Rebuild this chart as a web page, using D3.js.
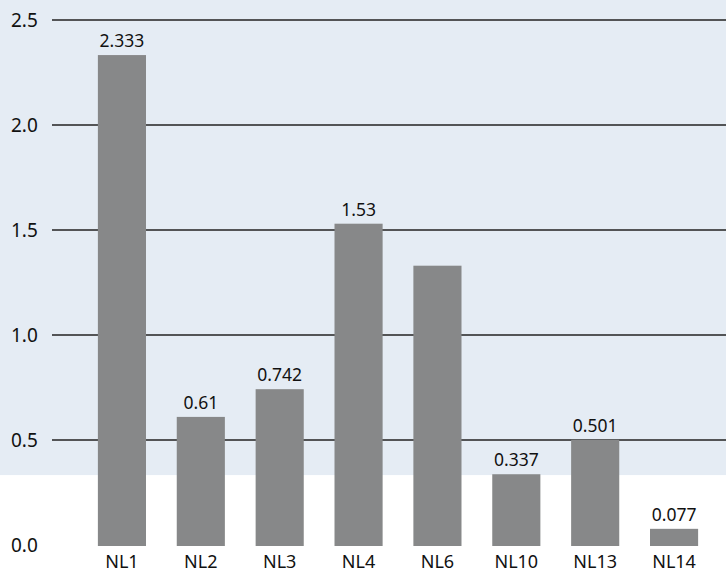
<!DOCTYPE html>
<html>
<head>
<meta charset="utf-8">
<script src="https://cdn.jsdelivr.net/npm/d3@7"></script>
<style>
  body { margin: 0; background: #fff; }
  text { font-family: "Noto Sans", sans-serif; fill: #111; }
</style>
</head>
<body>
<div id="graph"></div>
<script>
// bar chart, values
var categories = ["NL1", "NL2", "NL3", "NL4", "NL6", "NL10", "NL13", "NL14"];
var values = [2.333, 0.61, 0.742, 1.53, 1.33, 0.337, 0.501, 0.077];
var labels = ["2.333", "0.61", "0.742", "1.53", "", "0.337", "0.501", "0.077"];
var yTicks = [0.0, 0.5, 1.0, 1.5, 2.0, 2.5];
var bandTop = 0.333; // light blue background reaches down to this value

var width = 726, height = 580;

var svg = d3.select("#graph").append("svg")
    .attr("width", width)
    .attr("height", height);

var x = d3.scaleBand()
    .domain(categories)
    .range([82.5, 713.5])
    .paddingInner(0.39)
    .paddingOuter(0.195);

var y = d3.scaleLinear()
    .domain([0, 2.5])
    .range([545, 20]);

// background band
svg.append("rect")
    .attr("x", 0)
    .attr("y", 0)
    .attr("width", width)
    .attr("height", y(bandTop))
    .attr("fill", "#e5ecf4");

// gridlines (none at zero)
svg.selectAll(".grid")
    .data(yTicks.filter(d => d > 0))
  .enter().append("line")
    .attr("class", "grid")
    .attr("x1", 52)
    .attr("x2", width)
    .attr("y1", d => y(d))
    .attr("y2", d => y(d))
    .attr("stroke", "#222")
    .attr("stroke-width", 1.3);

// y axis labels
svg.selectAll(".ylab")
    .data(yTicks)
  .enter().append("text")
    .attr("class", "ylab")
    .attr("x", 11)
    .attr("y", d => y(d))
    .attr("dy", "0.36em")
    .attr("font-size", 19)
    .text(d => d.toFixed(1));

// bars
svg.selectAll(".bar")
    .data(values)
  .enter().append("rect")
    .attr("class", "bar")
    .attr("x", (d, i) => x(categories[i]))
    .attr("width", x.bandwidth())
    .attr("y", d => y(d))
    .attr("height", d => y(0) - y(d) + 1)
    .attr("fill", "#878889");

// value labels
svg.selectAll(".vlab")
    .data(values)
  .enter().append("text")
    .attr("class", "vlab")
    .attr("x", (d, i) => x(categories[i]) + x.bandwidth() / 2)
    .attr("y", d => y(d) - 8)
    .attr("text-anchor", "middle")
    .attr("font-size", 17.5)
    .text((d, i) => labels[i]);

// category labels
svg.selectAll(".xlab")
    .data(categories)
  .enter().append("text")
    .attr("class", "xlab")
    .attr("x", d => x(d) + x.bandwidth() / 2)
    .attr("y", 568)
    .attr("text-anchor", "middle")
    .attr("font-size", 18)
    .text(d => d);
</script>
</body>
</html>
